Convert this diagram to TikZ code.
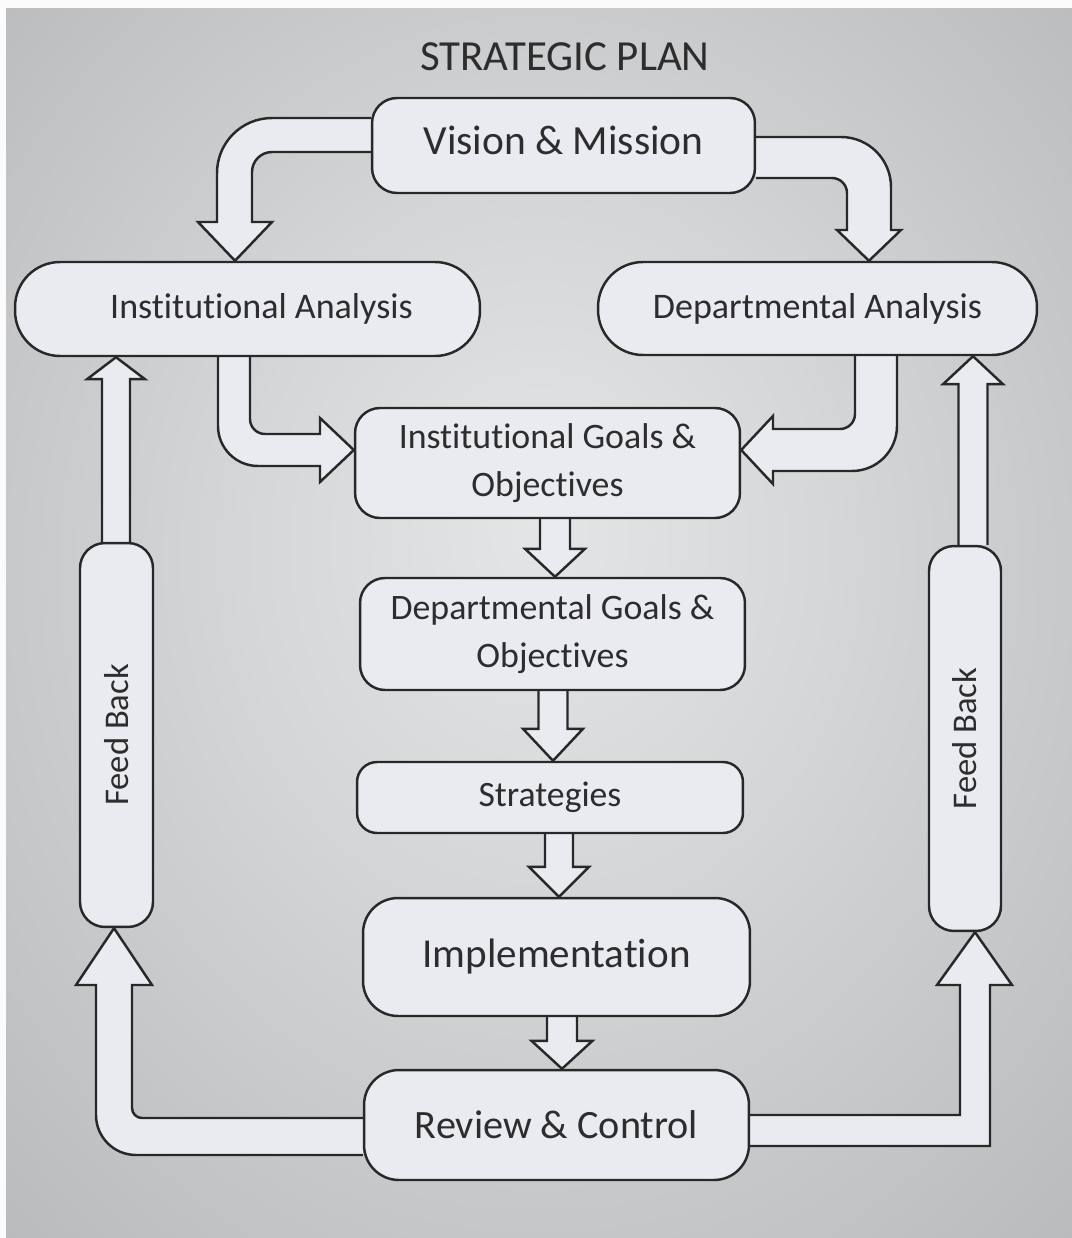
\documentclass[tikz,border=0pt]{standalone}
\usepackage{fontspec}
\setmainfont{Carlito}[Ligatures={NoCommon,NoContextual}, RawFeature={-liga;-clig;-calt}]
\usepackage{graphicx}
\usetikzlibrary{calc}

\definecolor{linec}{RGB}{40,40,40}
\definecolor{boxc}{RGB}{234,235,241}
\definecolor{textc}{RGB}{45,45,45}
\definecolor{bglight}{RGB}{228,229,231}
\definecolor{bgmid}{RGB}{213,214,216}
\definecolor{bgdark}{RGB}{186,187,189}

\pgfdeclarelayer{bg}
\pgfdeclarelayer{arrowlayer}
\pgfsetlayers{bg,arrowlayer,main}
\pgfdeclareradialshading{bgshade}{\pgfpoint{0bp}{4bp}}{color(0bp)=(bglight); color(14bp)=(bgmid); color(36bp)=(bgdark); color(50bp)=(bgdark)}

% straight block arrow: start, tip, half shaft, half head, head base offset
\newcommand{\vblock}[5]{%
  \draw[blockarrow] ($(#1)+(-#3,0)$) -- ($(#2)+(-#3,#5)$) -- ($(#2)+(-#4,#5)$) -- (#2)
    -- ($(#2)+(#4,#5)$) -- ($(#2)+(#3,#5)$) -- ($(#1)+(#3,0)$);}

\begin{document}
\begin{tikzpicture}[x={(0.02cm,0)}, y={(0,-0.02cm)},
  box/.style={draw=linec, fill=boxc, line width=1.4pt, inner sep=0pt, align=center, text=textc},
  blockarrow/.style={draw=linec, fill=boxc, line width=1.4pt, line join=miter}]
\useasboundingbox (0,0) rectangle (1072,1238);

\begin{pgfonlayer}{bg}
\fill[white!97!gray] (0,0) rectangle (1072,1238);
\shade[shading=bgshade] (6,8) rectangle (1072,1238);
\end{pgfonlayer}

\node (title) at (565,57) [text=textc, font=\fontsize{24.4}{29}\selectfont] {STRATEGIC PLAN};

\node (vm) at (563.5,145.5) [box, minimum width=7.66cm, minimum height=1.9cm, rounded corners=0.5cm,
  text depth=0.2cm, font=\fontsize{23.6}{28}\selectfont] {Vision \& Mission};
\node (ia) at (247.5,309) [box, minimum width=9.3cm, minimum height=1.88cm, rounded corners=0.9cm,
  font=\fontsize{20.5}{27}\selectfont] {\hspace*{0.56cm}Institutional Analysis};
\node (da) at (817.5,308.5) [box, minimum width=8.78cm, minimum height=1.86cm, rounded corners=0.9cm,
  font=\fontsize{20.5}{27}\selectfont] {Departmental Analysis};
\node (igo) at (547.5,463) [box, minimum width=7.7cm, minimum height=2.2cm, rounded corners=0.5cm,
  font=\fontsize{20.4}{27.3}\selectfont] {Institutional Goals \&\\Objectives};
\node (dgo) at (552.5,634) [box, minimum width=7.7cm, minimum height=2.24cm, rounded corners=0.5cm,
  font=\fontsize{20.4}{27.3}\selectfont] {Departmental Goals \&\\Objectives};
\node (str) at (550,797.5) [box, minimum width=7.72cm, minimum height=1.42cm, rounded corners=0.4cm,
  font=\fontsize{20.3}{27}\selectfont] {Strategies};
\node (imp) at (556.5,957) [box, minimum width=7.74cm, minimum height=2.36cm, rounded corners=0.7cm,
  font=\fontsize{23.4}{28}\selectfont] {Implementation};
\node (rc) at (556.5,1125) [box, minimum width=7.7cm, minimum height=2.2cm, rounded corners=0.7cm,
  font=\fontsize{22.9}{28}\selectfont] {Review \& Control};
\node (fbl) at (116.5,735) [box, minimum width=1.46cm, minimum height=7.68cm, rounded corners=0.5cm,
  font=\fontsize{19.7}{24}\selectfont] {\rotatebox{90}{Feed Back}};
\node (fbr) at (965,738.5) [box, minimum width=1.44cm, minimum height=7.7cm, rounded corners=0.5cm,
  font=\fontsize{19.7}{24}\selectfont] {\rotatebox{90}{Feed Back}};

\begin{pgfonlayer}{arrowlayer}
% bent arrows out of vision & mission
\draw[blockarrow] (vm.west |- 0,118) -- (272,118) arc[start angle=90, end angle=180, radius=1.1cm]
  -- (217,222) -- (198,222) -- (ia.north -| 235,0) -- (272,222) -- (252,222) -- (252,172)
  arc[start angle=180, end angle=90, radius=0.4cm] -- (vm.west |- 0,152);
\draw[blockarrow] (vm.east |- 0,137) -- (841,137) arc[start angle=90, end angle=0, radius=1cm]
  -- (891,230) -- (901,230) -- (da.north -| 869,0) -- (837,230) -- (847,230) -- (847,193)
  arc[start angle=0, end angle=90, radius=0.3cm] -- (vm.east |- 0,178);

% analyses into institutional goals
\draw[blockarrow] (ia.south -| 218,0) -- (218,426) arc[start angle=180, end angle=270, radius=0.8cm]
  -- (320,466) -- (320,482) -- (igo.west |- 0,450) -- (320,418) -- (320,434) -- (265,434)
  arc[start angle=270, end angle=180, radius=0.3cm] -- (ia.south -| 250,0);
\draw[blockarrow] (da.south -| 897,0) -- (897,426) arc[start angle=0, end angle=-90, radius=0.9cm]
  -- (773,471) -- (773,484) -- (igo.east |- 0,450) -- (773,416) -- (773,429) -- (840,429)
  arc[start angle=-90, end angle=0, radius=0.3cm] -- (da.south -| 855,0);

% down the middle
\vblock{igo.south -| 555,0}{dgo.north -| 555,0}{15}{30}{-28}
\vblock{dgo.south -| 553,0}{str.north -| 553,0}{14.5}{30}{-32}
\vblock{str.south -| 559,0}{imp.north -| 559,0}{14}{30}{-30}
\vblock{imp.south -| 562,0}{rc.north -| 562,0}{15}{30.5}{-28}

% feed back loops
\draw[blockarrow] (rc.west |- 0,1118) -- (142,1118) arc[start angle=270, end angle=180, radius=0.2cm]
  -- (132,985) -- (152,985) -- (fbl.south -| 114,0) -- (76,985) -- (96,985) -- (96,1115)
  arc[start angle=180, end angle=270, radius=0.8cm] -- (rc.west |- 0,1155);
\draw[blockarrow] (rc.east |- 0,1115) -- (960,1115) -- (960,985) -- (937,985) -- (fbr.south -| 975,0)
  -- (1012,985) -- (990,985) -- (990,1146) -- (rc.east |- 0,1146);
\vblock{fbl.north -| 116,0}{ia.south -| 116,0}{14}{29}{22}
\vblock{fbr.north -| 973,0}{da.south -| 973,0}{14.5}{30}{28}
\end{pgfonlayer}

\end{tikzpicture}
\end{document}
